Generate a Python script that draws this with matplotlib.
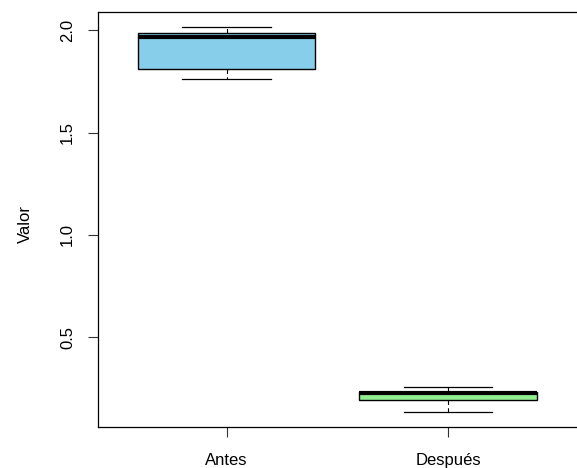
import matplotlib
matplotlib.use("Agg")
import matplotlib.pyplot as plt

# box statistics
groups = ["Antes", "Después"]
whislo = [1.761, 0.135]
q1 = [1.809, 0.195]
med = [1.967, 0.229]
q3 = [1.987, 0.234]
whishi = [2.013, 0.259]
box_colors = ["#87CEEB", "#90EE90"]

yticks = [0.5, 1.0, 1.5, 2.0]

plt.rcParams['font.family'] = ['Liberation Sans', 'DejaVu Sans']

fig = plt.figure(figsize=(5.77, 4.68), dpi=100)
# the right edge of the frame falls just outside the picture, as in the reference
ax = fig.add_axes([98 / 577, 1 - 427 / 468, 490 / 577, 415 / 468])

stats = []
for i, g in enumerate(groups):
    stats.append(dict(label=g, whislo=whislo[i], q1=q1[i], med=med[i],
                      q3=q3[i], whishi=whishi[i], fliers=[]))

bp = ax.bxp(stats, positions=[1, 2], widths=0.8, patch_artist=True,
            showfliers=False,
            boxprops=dict(edgecolor="black", linewidth=1.0),
            medianprops=dict(color="black", linewidth=3.0, solid_capstyle="butt"),
            whiskerprops=dict(color="black", linewidth=0.8, linestyle=(0, (4, 3))),
            capprops=dict(color="black", linewidth=0.9),
            capwidths=0.4)
for patch, c in zip(bp["boxes"], box_colors):
    patch.set_facecolor(c)

ax.set_xlim(0.42, 0.42 + 490 / 221.6)
ax.set_ylim(0.063, 2.088)
ax.set_yticks(yticks)
ax.set_yticklabels([f"{v:.1f}" for v in yticks], rotation=90, va="center")
ax.set_xticks([1, 2])
ax.set_xticklabels(groups)
ax.tick_params(axis="both", length=7.5, width=0.8, labelsize=12, color="#333333")
ax.tick_params(axis="x", pad=11)
ax.tick_params(axis="y", pad=9)
ax.set_ylabel("Valor", fontsize=12)
ax.yaxis.set_label_coords(-65 / 490, 0.49)

for s in ax.spines.values():
    s.set_linewidth(0.9)
    s.set_color("black")
ax.spines["right"].set_visible(False)

fig.savefig("out.png", dpi=100)
